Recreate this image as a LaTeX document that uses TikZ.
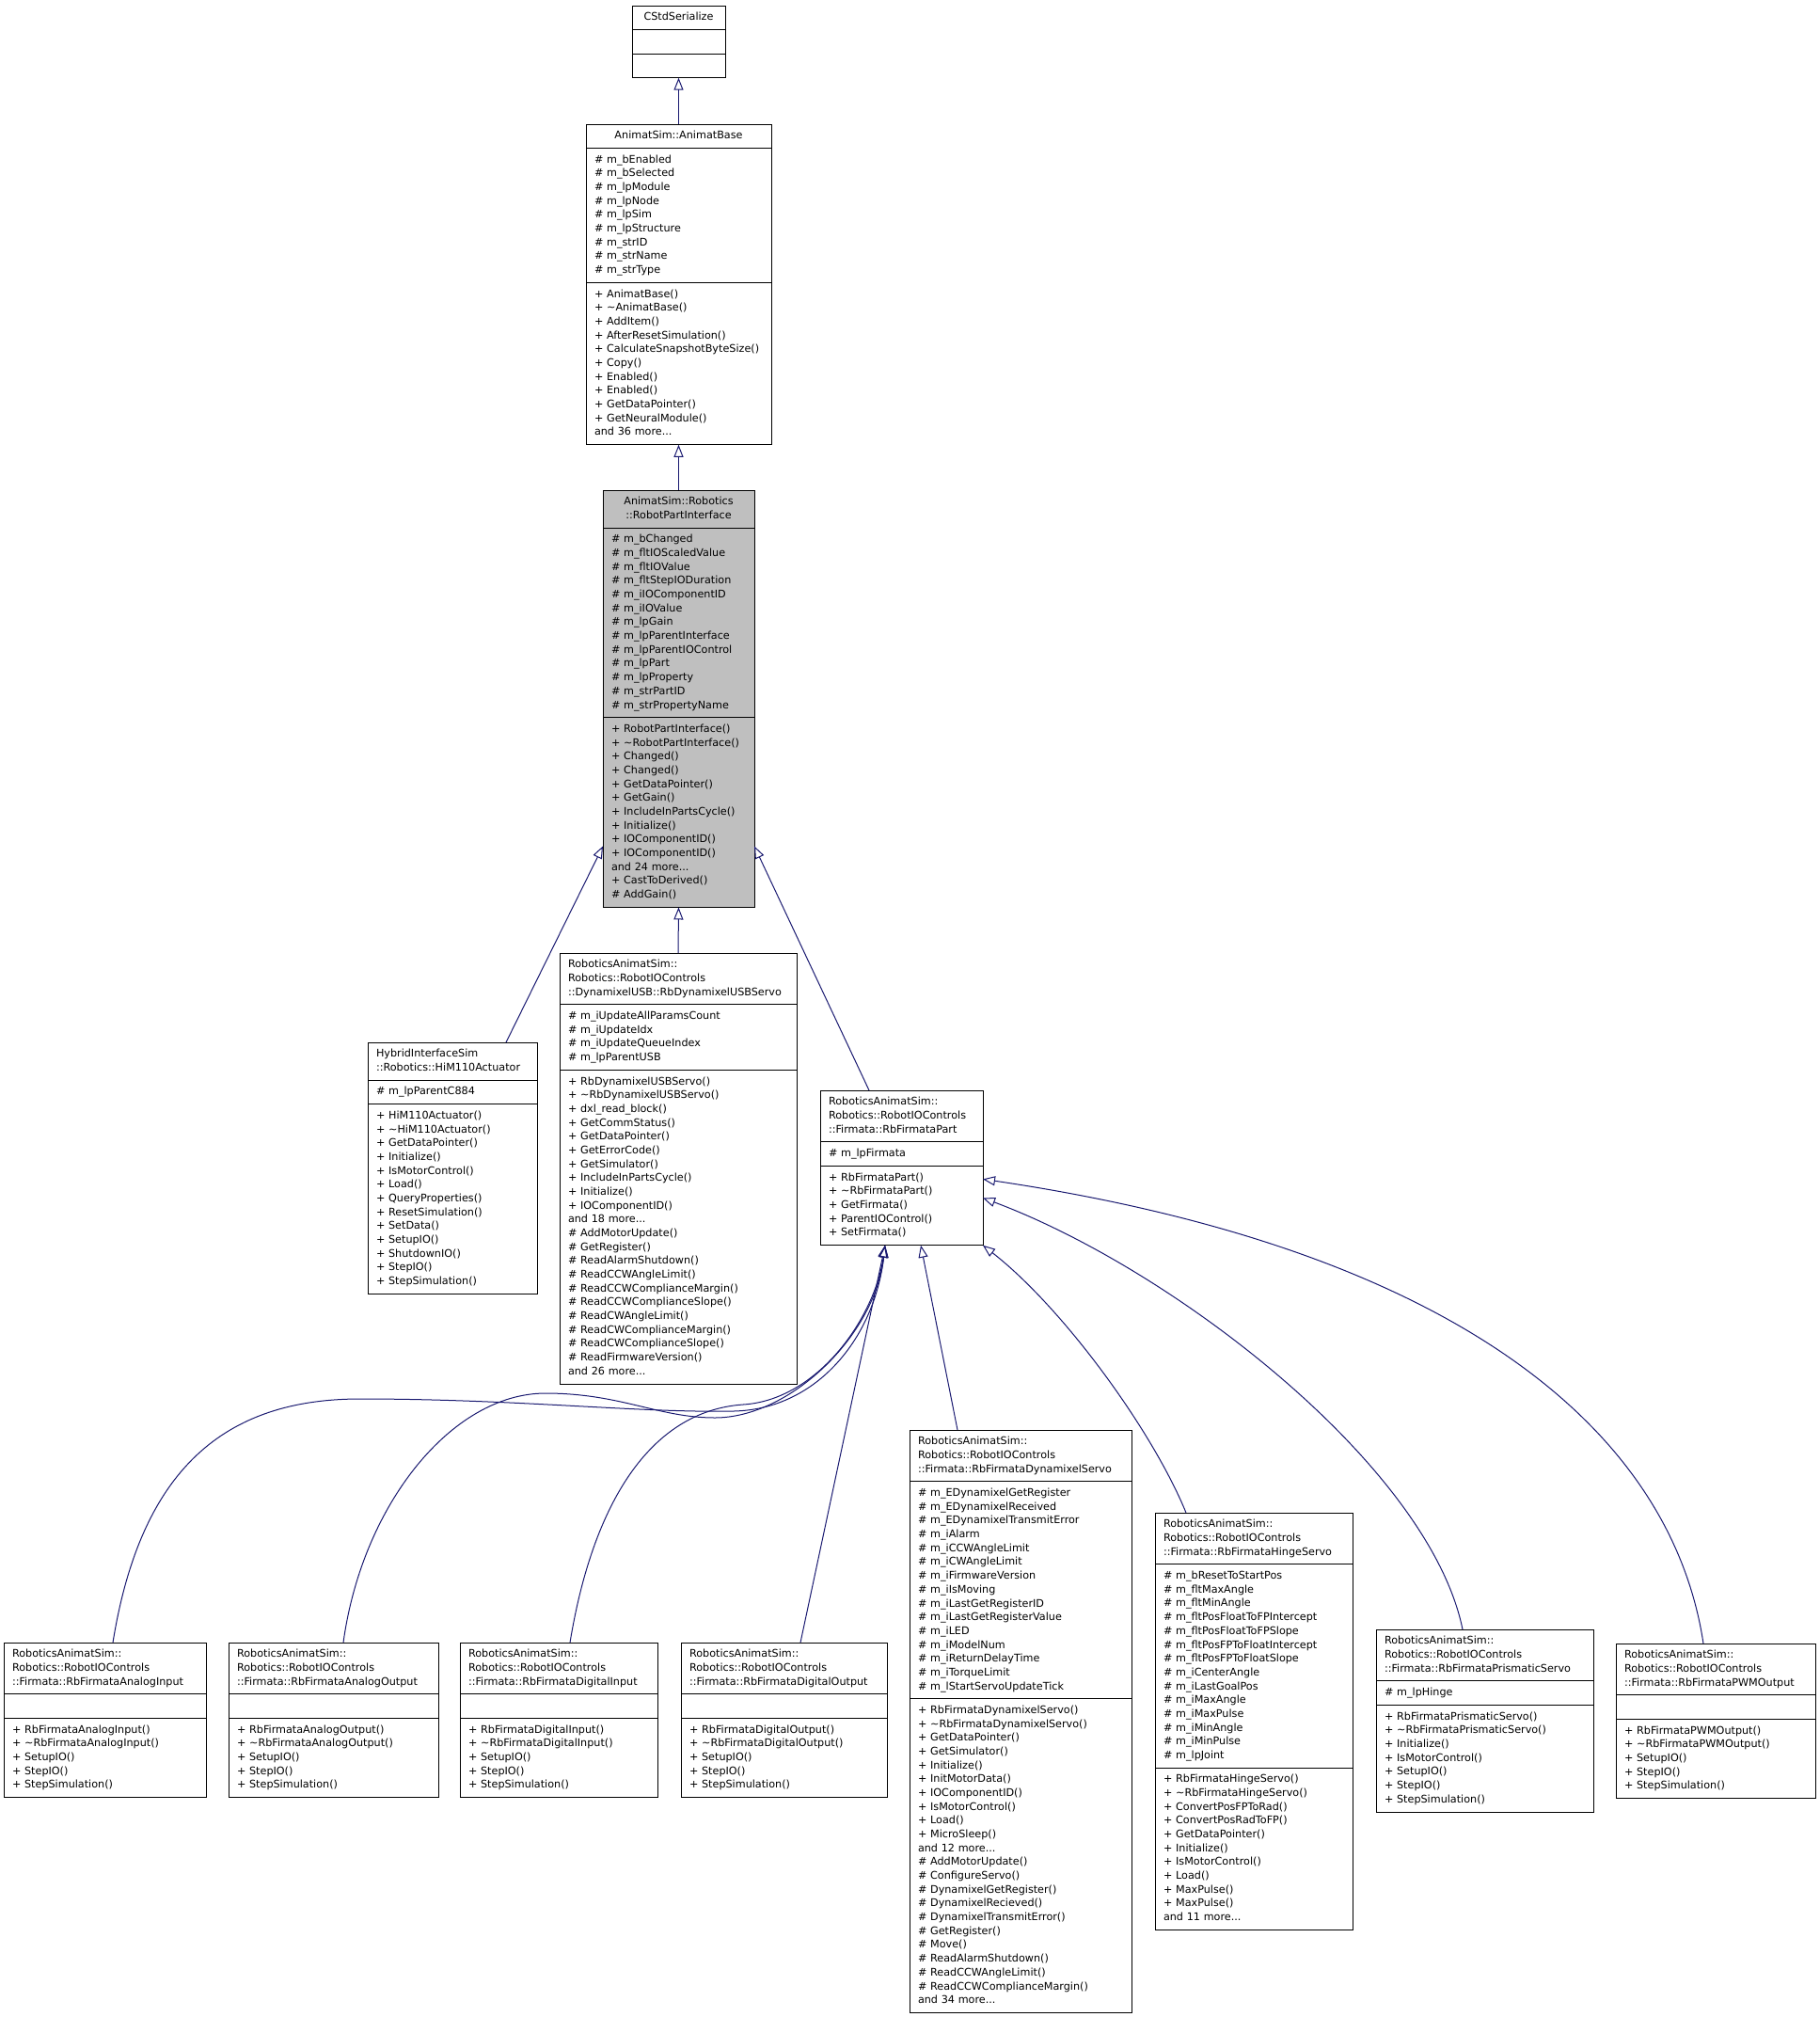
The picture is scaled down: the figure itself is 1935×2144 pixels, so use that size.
\documentclass[tikz,border=0pt]{standalone}
\usepackage{fontspec}
\newfontfamily\doxfont{DejaVu Sans}
\usetikzlibrary{arrows.meta, shapes.multipart}
\definecolor{edgeblue}{HTML}{191970}
\definecolor{grey75}{HTML}{BFBFBF}

\begin{document}
\begin{tikzpicture}[
		x=1pt, y=-1pt,
		cls/.style={rectangle split, rectangle split parts=3, draw, line width=0.9pt, fill=white,
			anchor=north west, outer sep=0pt, inner xsep=9pt, inner ysep=5pt, align=left,
			font=\doxfont\fontsize{11.2}{14.67}\selectfont},
		inh/.style={-{Triangle[open, length=13pt, width=10pt]}, draw=edgeblue, line width=1pt}
		]
		\useasboundingbox (0,0) rectangle (1935,2144);

		% top of the hierarchy
		\node[cls, text width=81pt] (serial) at (672,6) {\centering\strut CStdSerialize\strut\par
			\nodepart{two}\strut
			\nodepart{three}\strut};
		\node[cls, text width=179pt] (base) at (623,132) {\centering\strut AnimatSim::AnimatBase\strut\par
			\nodepart{two}\strut\#~m\_bEnabled\\\#~m\_bSelected\\\#~m\_lpModule\\\#~m\_lpNode\\\#~m\_lpSim\\\#~m\_lpStructure\\\#~m\_strID\\\#~m\_strName\\\#~m\_strType\strut
			\nodepart{three}\strut+~AnimatBase()\\+~\textasciitilde AnimatBase()\\+~AddItem()\\+~AfterResetSimulation()\\+~CalculateSnapshotByteSize()\\+~Copy()\\+~Enabled()\\+~Enabled()\\+~GetDataPointer()\\+~GetNeuralModule()\\and~36~more...\strut};
		\node[cls, text width=143pt, fill=grey75] (rpi) at (641,521) {\centering\strut AnimatSim::Robotics\\::RobotPartInterface\strut\par
			\nodepart{two}\strut\#~m\_bChanged\\\#~m\_fltIOScaledValue\\\#~m\_fltIOValue\\\#~m\_fltStepIODuration\\\#~m\_iIOComponentID\\\#~m\_iIOValue\\\#~m\_lpGain\\\#~m\_lpParentInterface\\\#~m\_lpParentIOControl\\\#~m\_lpPart\\\#~m\_lpProperty\\\#~m\_strPartID\\\#~m\_strPropertyName\strut
			\nodepart{three}\strut+~RobotPartInterface()\\+~\textasciitilde RobotPartInterface()\\+~Changed()\\+~Changed()\\+~GetDataPointer()\\+~GetGain()\\+~IncludeInPartsCycle()\\+~Initialize()\\+~IOComponentID()\\+~IOComponentID()\\and~24~more...\\+~CastToDerived()\\\#~AddGain()\strut};

		% direct children
		\node[cls, text width=162pt] (him) at (391,1108) {\strut HybridInterfaceSim\\::Robotics::HiM110Actuator\strut
			\nodepart{two}\strut\#~m\_lpParentC884\strut
			\nodepart{three}\strut+~HiM110Actuator()\\+~\textasciitilde HiM110Actuator()\\+~GetDataPointer()\\+~Initialize()\\+~IsMotorControl()\\+~Load()\\+~QueryProperties()\\+~ResetSimulation()\\+~SetData()\\+~SetupIO()\\+~ShutdownIO()\\+~StepIO()\\+~StepSimulation()\strut};
		\node[cls, text width=234pt] (usb) at (595,1013) {\strut RoboticsAnimatSim::\\Robotics::RobotIOControls\\::DynamixelUSB::RbDynamixelUSBServo\strut
			\nodepart{two}\strut\#~m\_iUpdateAllParamsCount\\\#~m\_iUpdateIdx\\\#~m\_iUpdateQueueIndex\\\#~m\_lpParentUSB\strut
			\nodepart{three}\strut+~RbDynamixelUSBServo()\\+~\textasciitilde RbDynamixelUSBServo()\\+~dxl\_read\_block()\\+~GetCommStatus()\\+~GetDataPointer()\\+~GetErrorCode()\\+~GetSimulator()\\+~IncludeInPartsCycle()\\+~Initialize()\\+~IOComponentID()\\and~18~more...\\\#~AddMotorUpdate()\\\#~GetRegister()\\\#~ReadAlarmShutdown()\\\#~ReadCCWAngleLimit()\\\#~ReadCCWComplianceMargin()\\\#~ReadCCWComplianceSlope()\\\#~ReadCWAngleLimit()\\\#~ReadCWComplianceMargin()\\\#~ReadCWComplianceSlope()\\\#~ReadFirmwareVersion()\\and~26~more...\strut};
		\node[cls, text width=155pt] (firm) at (872,1159) {\strut RoboticsAnimatSim::\\Robotics::RobotIOControls\\::Firmata::RbFirmataPart\strut
			\nodepart{two}\strut\#~m\_lpFirmata\strut
			\nodepart{three}\strut+~RbFirmataPart()\\+~\textasciitilde RbFirmataPart()\\+~GetFirmata()\\+~ParentIOControl()\\+~SetFirmata()\strut};

		% Firmata parts
		\node[cls, text width=197pt] (ain) at (4,1746) {\strut RoboticsAnimatSim::\\Robotics::RobotIOControls\\::Firmata::RbFirmataAnalogInput\strut
			\nodepart{two}\strut
			\nodepart{three}\strut+~RbFirmataAnalogInput()\\+~\textasciitilde RbFirmataAnalogInput()\\+~SetupIO()\\+~StepIO()\\+~StepSimulation()\strut};
		\node[cls, text width=205pt] (aout) at (243,1746) {\strut RoboticsAnimatSim::\\Robotics::RobotIOControls\\::Firmata::RbFirmataAnalogOutput\strut
			\nodepart{two}\strut
			\nodepart{three}\strut+~RbFirmataAnalogOutput()\\+~\textasciitilde RbFirmataAnalogOutput()\\+~SetupIO()\\+~StepIO()\\+~StepSimulation()\strut};
		\node[cls, text width=192pt] (din) at (489,1746) {\strut RoboticsAnimatSim::\\Robotics::RobotIOControls\\::Firmata::RbFirmataDigitalInput\strut
			\nodepart{two}\strut
			\nodepart{three}\strut+~RbFirmataDigitalInput()\\+~\textasciitilde RbFirmataDigitalInput()\\+~SetupIO()\\+~StepIO()\\+~StepSimulation()\strut};
		\node[cls, text width=201pt] (dout) at (724,1746) {\strut RoboticsAnimatSim::\\Robotics::RobotIOControls\\::Firmata::RbFirmataDigitalOutput\strut
			\nodepart{two}\strut
			\nodepart{three}\strut+~RbFirmataDigitalOutput()\\+~\textasciitilde RbFirmataDigitalOutput()\\+~SetupIO()\\+~StepIO()\\+~StepSimulation()\strut};
		\node[cls, text width=218pt] (dservo) at (967,1520) {\strut RoboticsAnimatSim::\\Robotics::RobotIOControls\\::Firmata::RbFirmataDynamixelServo\strut
			\nodepart{two}\strut\#~m\_EDynamixelGetRegister\\\#~m\_EDynamixelReceived\\\#~m\_EDynamixelTransmitError\\\#~m\_iAlarm\\\#~m\_iCCWAngleLimit\\\#~m\_iCWAngleLimit\\\#~m\_iFirmwareVersion\\\#~m\_iIsMoving\\\#~m\_iLastGetRegisterID\\\#~m\_iLastGetRegisterValue\\\#~m\_iLED\\\#~m\_iModelNum\\\#~m\_iReturnDelayTime\\\#~m\_iTorqueLimit\\\#~m\_lStartServoUpdateTick\strut
			\nodepart{three}\strut+~RbFirmataDynamixelServo()\\+~\textasciitilde RbFirmataDynamixelServo()\\+~GetDataPointer()\\+~GetSimulator()\\+~Initialize()\\+~InitMotorData()\\+~IOComponentID()\\+~IsMotorControl()\\+~Load()\\+~MicroSleep()\\and~12~more...\\\#~AddMotorUpdate()\\\#~ConfigureServo()\\\#~DynamixelGetRegister()\\\#~DynamixelRecieved()\\\#~DynamixelTransmitError()\\\#~GetRegister()\\\#~Move()\\\#~ReadAlarmShutdown()\\\#~ReadCCWAngleLimit()\\\#~ReadCCWComplianceMargin()\\and~34~more...\strut};
		\node[cls, text width=192pt] (hinge) at (1228,1608) {\strut RoboticsAnimatSim::\\Robotics::RobotIOControls\\::Firmata::RbFirmataHingeServo\strut
			\nodepart{two}\strut\#~m\_bResetToStartPos\\\#~m\_fltMaxAngle\\\#~m\_fltMinAngle\\\#~m\_fltPosFloatToFPIntercept\\\#~m\_fltPosFloatToFPSlope\\\#~m\_fltPosFPToFloatIntercept\\\#~m\_fltPosFPToFloatSlope\\\#~m\_iCenterAngle\\\#~m\_iLastGoalPos\\\#~m\_iMaxAngle\\\#~m\_iMaxPulse\\\#~m\_iMinAngle\\\#~m\_iMinPulse\\\#~m\_lpJoint\strut
			\nodepart{three}\strut+~RbFirmataHingeServo()\\+~\textasciitilde RbFirmataHingeServo()\\+~ConvertPosFPToRad()\\+~ConvertPosRadToFP()\\+~GetDataPointer()\\+~Initialize()\\+~IsMotorControl()\\+~Load()\\+~MaxPulse()\\+~MaxPulse()\\and~11~more...\strut};
		\node[cls, text width=213pt] (prism) at (1463,1732) {\strut RoboticsAnimatSim::\\Robotics::RobotIOControls\\::Firmata::RbFirmataPrismaticServo\strut
			\nodepart{two}\strut\#~m\_lpHinge\strut
			\nodepart{three}\strut+~RbFirmataPrismaticServo()\\+~\textasciitilde RbFirmataPrismaticServo()\\+~Initialize()\\+~IsMotorControl()\\+~SetupIO()\\+~StepIO()\\+~StepSimulation()\strut};
		\node[cls, text width=194pt] (pwm) at (1718,1747) {\strut RoboticsAnimatSim::\\Robotics::RobotIOControls\\::Firmata::RbFirmataPWMOutput\strut
			\nodepart{two}\strut
			\nodepart{three}\strut+~RbFirmataPWMOutput()\\+~\textasciitilde RbFirmataPWMOutput()\\+~SetupIO()\\+~StepIO()\\+~StepSimulation()\strut};

		% inheritance
		\draw[inh] (base.north) -- (serial.south);
		\draw[inh] (rpi.north) -- (base.south);
		\draw[inh] ([xshift=57]him.north) -- ([yshift=65]rpi.south west);
		\draw[inh] (usb.north) -- (rpi.south);
		\draw[inh] ([xshift=-34.5]firm.north) -- ([yshift=65]rpi.south east);

		\draw[inh] ([xshift=8.5]ain.north) .. controls (150,1560) and (240,1487) .. (383,1487)
			.. controls (550,1487) and (680,1502) .. (780,1500)
			.. controls (870,1498) and (930,1420) .. ([xshift=-17.5]firm.south);
		\draw[inh] ([xshift=10.5]aout.north) .. controls (385,1600) and (480,1481) .. (580,1481)
			.. controls (660,1481) and (700,1507) .. (760,1507)
			.. controls (840,1507) and (930,1420) .. ([xshift=-17.5]firm.south);
		\draw[inh] ([xshift=12]din.north) .. controls (630,1600) and (690,1500) .. (790,1493)
			.. controls (870,1488) and (930,1400) .. ([xshift=-17.5]firm.south);
		\draw[inh] ([xshift=17.5]dout.north) -- ([xshift=-17.5]firm.south);
		\draw[inh] ([xshift=-67]dservo.north) -- ([xshift=20.5]firm.south);
		\draw[inh] ([xshift=-72]hinge.north) .. controls (1225,1520) and (1130,1390) .. (firm.south east);
		\draw[inh] ([xshift=-23.5]prism.north) .. controls (1520,1560) and (1250,1350) .. ([yshift=-32]firm.east);
		\draw[inh] ([xshift=-13]pwm.north) .. controls (1775,1510) and (1530,1325) .. ([yshift=-12]firm.east);
	\end{tikzpicture}
\end{document}
